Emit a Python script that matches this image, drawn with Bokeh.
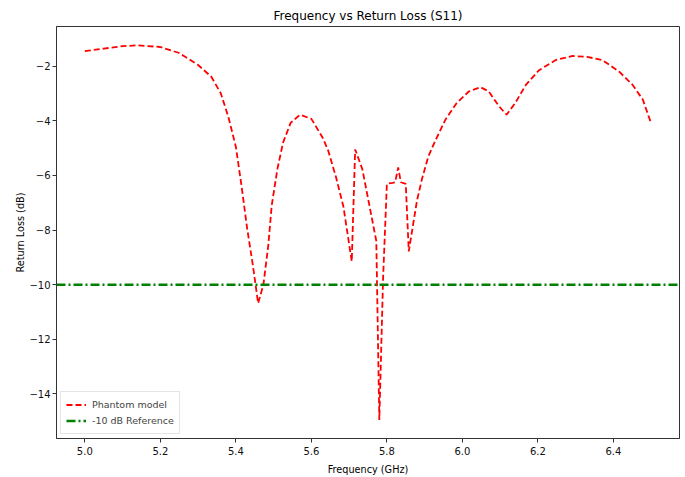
from bokeh.plotting import figure
from bokeh.models import FixedTicker, Range1d, Legend, LegendItem
from bokeh.embed import file_html
from bokeh.resources import INLINE

# ---- data ----
freq_ghz = [5.00, 5.05, 5.10, 5.14, 5.20, 5.25, 5.30, 5.335, 5.36, 5.38,
            5.40, 5.415, 5.43, 5.445, 5.459, 5.473, 5.486, 5.495, 5.51, 5.525,
            5.545, 5.57, 5.60, 5.63, 5.645, 5.665, 5.685, 5.707, 5.716, 5.735,
            5.752, 5.772, 5.780, 5.790, 5.800, 5.815, 5.822, 5.830, 5.837, 5.850,
            5.858, 5.870, 5.880, 5.893, 5.91, 5.93, 5.955, 5.985, 6.017, 6.048,
            6.07, 6.097, 6.117, 6.14, 6.168, 6.203, 6.247, 6.29, 6.33, 6.371,
            6.416, 6.451, 6.478, 6.50]
s11_db = [-1.45, -1.36, -1.27, -1.24, -1.30, -1.52, -1.96, -2.39, -2.99, -3.85,
          -4.95, -6.38, -7.95, -9.28, -10.68, -10.0, -8.55, -7.10, -5.77, -4.80,
          -4.08, -3.78, -3.93, -4.62, -5.11, -6.05, -7.15, -9.15, -5.05, -5.77,
          -6.98, -8.40, -14.95, -9.76, -6.31, -6.27, -6.25, -5.71, -6.25, -6.31,
          -8.78, -7.75, -6.90, -6.13, -5.30, -4.68, -3.96, -3.35, -2.93, -2.77,
          -2.93, -3.47, -3.78, -3.35, -2.69, -2.15, -1.78, -1.63, -1.66, -1.78,
          -2.21, -2.69, -3.23, -4.10]
ref_level_db = -10.0
x_limits = [4.925, 6.575]
y_limits = [-15.63, -0.55]
x_ticks = [5.0, 5.2, 5.4, 5.6, 5.8, 6.0, 6.2, 6.4]
x_tick_labels = ["5.0", "5.2", "5.4", "5.6", "5.8", "6.0", "6.2", "6.4"]
y_ticks = [-14, -12, -10, -8, -6, -4, -2]
y_tick_labels = ["\u221214", "\u221212", "\u221210", "\u22128", "\u22126", "\u22124", "\u22122"]
series_labels = ["Phantom model", "-10 dB Reference"]

FONT = "DejaVu Sans"

p = figure(width=685, height=477, output_backend="svg", toolbar_location=None,
           x_range=Range1d(*x_limits), y_range=Range1d(*y_limits),
           title="Frequency vs Return Loss (S11)",
           min_border_left=56, min_border_right=6, min_border_top=26, min_border_bottom=35)

p.title.align = "center"
p.title.text_font = FONT
p.title.text_font_size = "12px"
p.title.text_font_style = "normal"
p.title.text_color = "#000000"
p.title.standoff = 7

p.xgrid.visible = False
p.ygrid.visible = False
p.outline_line_color = "#333333"
p.outline_line_width = 1
p.background_fill_color = "white"
p.border_fill_color = "white"

for ax in (p.xaxis[0], p.yaxis[0]):
    ax.axis_line_color = "#333333"
    ax.major_tick_line_color = "#333333"
    ax.major_tick_out = 4
    ax.major_tick_in = 0
    ax.minor_tick_line_color = None
    ax.major_label_text_font = FONT
    ax.major_label_text_font_size = "10px"
    ax.major_label_text_color = "#111111"
    ax.axis_label_text_font = FONT
    ax.axis_label_text_font_size = "9.7px"
    ax.axis_label_text_font_style = "normal"
    ax.axis_label_text_color = "#000000"

p.xaxis[0].major_label_standoff = 4
p.xaxis[0].axis_label_standoff = 6
p.yaxis[0].major_label_standoff = 2
p.yaxis[0].axis_label_standoff = 0

p.xaxis[0].ticker = FixedTicker(ticks=x_ticks)
p.xaxis[0].major_label_overrides = dict(zip(x_ticks, x_tick_labels))
p.yaxis[0].ticker = FixedTicker(ticks=y_ticks)
p.yaxis[0].major_label_overrides = dict(zip(y_ticks, y_tick_labels))
p.xaxis[0].axis_label = "Frequency (GHz)"
p.yaxis[0].axis_label = "Return Loss (dB)"

r_main = p.line(freq_ghz, s11_db, line_color="#ff0000", line_width=1.8, line_dash="6 3")
r_ref = p.line(x_limits, [ref_level_db, ref_level_db], line_color="#008000",
               line_width=2.4, line_dash="9 3 2 3")

legend = Legend(items=[LegendItem(label=series_labels[0], renderers=[r_main]),
                       LegendItem(label=series_labels[1], renderers=[r_ref])],
                location="bottom_left")
legend.margin = 4
legend.padding = 5
legend.spacing = 1
legend.glyph_width = 20
legend.glyph_height = 15
legend.label_height = 15
legend.label_standoff = 6
legend.label_text_font = FONT
legend.label_text_font_size = "9.5px"
legend.border_line_color = "#cccccc"
legend.border_line_width = 1
legend.background_fill_alpha = 0.8
p.add_layout(legend, "center")

open("out.html", "w").write(file_html(p, INLINE))
